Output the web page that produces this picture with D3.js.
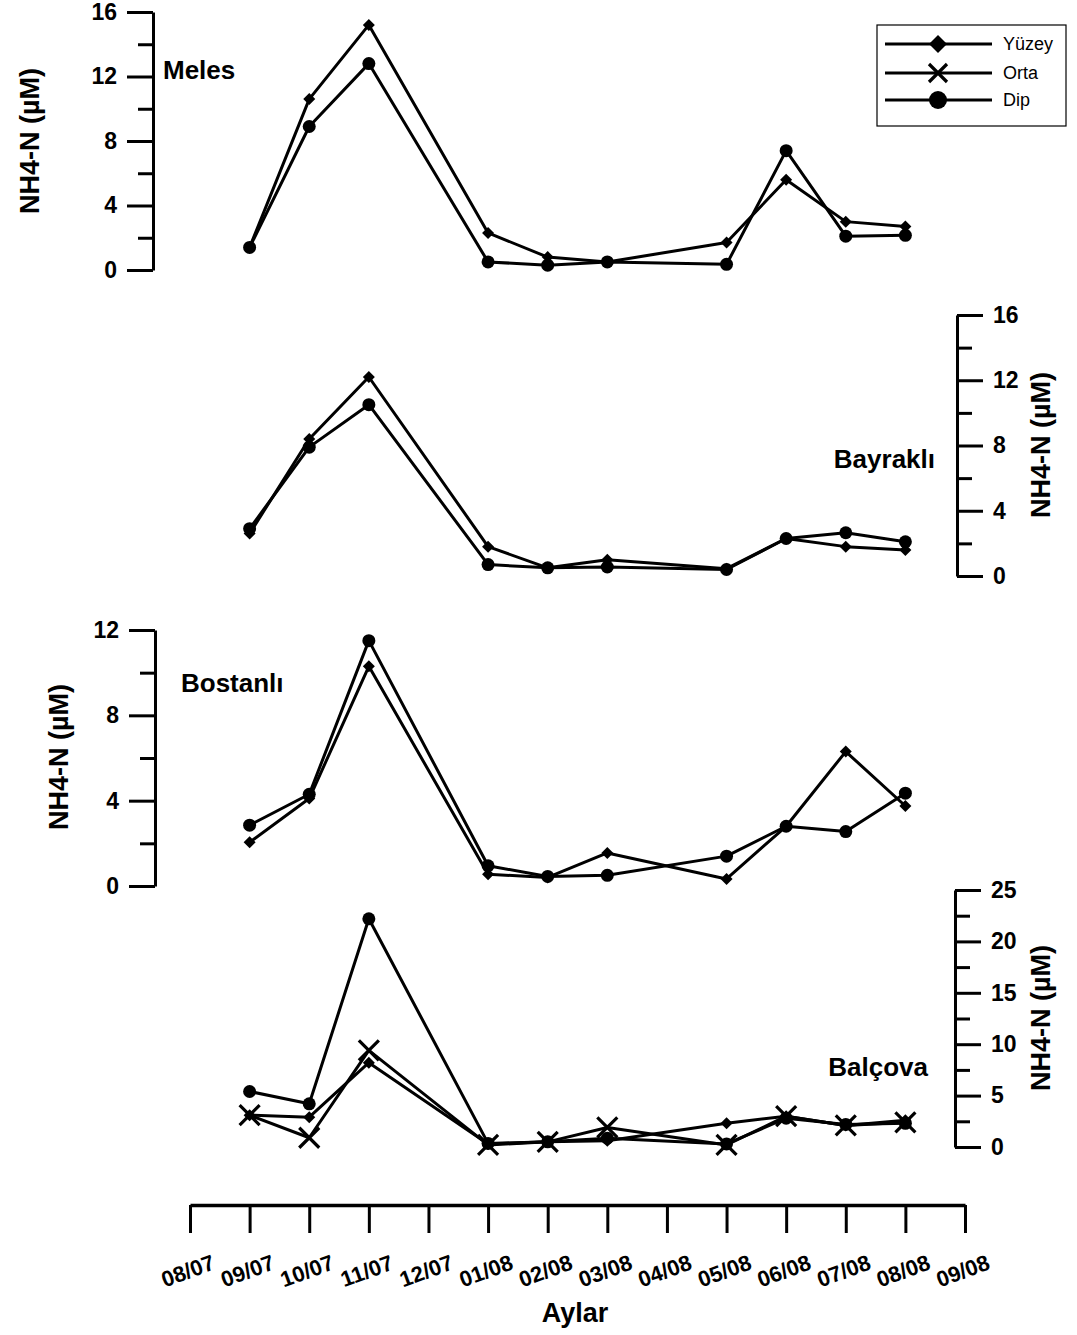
<!DOCTYPE html>
<html><head><meta charset="utf-8">
<script src="https://cdn.jsdelivr.net/npm/d3@7"></script>
<style>
body{margin:0;background:#fff;}
svg{font-family:"Liberation Sans",Arial,sans-serif;}
</style></head>
<body><svg id="c" width="1077" height="1335"></svg>
<script>
// ---- data ----
const months = ["08/07","09/07","10/07","11/07","12/07","01/08","02/08","03/08","04/08","05/08","06/08","07/08","08/08","09/08"];
const sampleIdx = [1,2,3,5,6,7,9,10,11,12];

const melesYuzey = [1.4, 10.6, 15.2, 2.3, 0.8, 0.5, 1.7, 5.6, 3.0, 2.7];
const melesDip   = [1.4, 8.9, 12.8, 0.5, 0.3, 0.5, 0.35, 7.4, 2.1, 2.15];

const bayrakliYuzey = [2.6, 8.4, 12.2, 1.8, 0.5, 1.0, 0.45, 2.3, 1.8, 1.6];
const bayrakliDip   = [2.9, 7.9, 10.5, 0.7, 0.5, 0.55, 0.4, 2.3, 2.65, 2.1];

const bostanliYuzey = [2.05, 4.1, 10.3, 0.55, 0.4, 1.55, 0.33, 2.8, 6.3, 3.75];
const bostanliDip   = [2.85, 4.3, 11.5, 0.95, 0.45, 0.5, 1.4, 2.8, 2.55, 4.35];

const balcovaYuzey = [3.1, 2.9, 8.2, 0.3, 0.5, 0.6, 2.3, 3.0, 2.1, 2.6];
const balcovaOrta  = [3.1, 0.9, 9.4, 0.2, 0.5, 1.9, 0.2, 3.0, 2.1, 2.4];
const balcovaDip   = [5.4, 4.2, 22.2, 0.35, 0.5, 0.85, 0.3, 2.8, 2.2, 2.3];

const legendLabels = ["Yüzey","Orta","Dip"];
const yTitle = "NH4-N (µM)";
const xTitle = "Aylar";

// ---- layout ----
const svg = d3.select("#c");
const FONT = '"Liberation Sans",Arial,sans-serif';
const x = d3.scaleLinear().domain([0, 13]).range([190, 965]);

const panels = [
  {name:"Meles", side:"left", axisX:153, domain:[0,16], range:[270,12], major:[0,4,8,12,16], minor:[2,6,10,14],
   series:[["d",melesYuzey],["o",melesDip]], label:{x:163,y:79,anchor:"start"}, title:{x:39,y:141}},
  {name:"Bayraklı", side:"right", axisX:957, domain:[0,16], range:[576,315], major:[0,4,8,12,16], minor:[2,6,10,14],
   series:[["d",bayrakliYuzey],["o",bayrakliDip]], label:{x:935,y:468,anchor:"end"}, title:{x:1050,y:445}},
  {name:"Bostanlı", side:"left", axisX:155, domain:[0,12], range:[886,630], major:[0,4,8,12], minor:[2,6,10],
   series:[["d",bostanliYuzey],["o",bostanliDip]], label:{x:181,y:692,anchor:"start"}, title:{x:68,y:757}},
  {name:"Balçova", side:"right", axisX:955, domain:[0,25], range:[1147,890], major:[0,5,10,15,20,25], minor:[2.5,7.5,12.5,17.5,22.5],
   series:[["d",balcovaYuzey],["x",balcovaOrta],["o",balcovaDip]], label:{x:928,y:1076,anchor:"end"}, title:{x:1050,y:1018}}
];

function drawMarker(g, type, cx, cy, s) {
  if (type === "d") {
    g.append("path").attr("d", `M${cx},${cy-s}L${cx+s},${cy}L${cx},${cy+s}L${cx-s},${cy}Z`).attr("fill","#000");
  } else if (type === "o") {
    g.append("circle").attr("cx",cx).attr("cy",cy).attr("r",s).attr("fill","#000");
  } else {
    g.append("path").attr("d", `M${cx-s},${cy-s}L${cx+s},${cy+s}M${cx-s},${cy+s}L${cx+s},${cy-s}`)
      .attr("stroke","#000").attr("stroke-width",3.2).attr("fill","none");
  }
}
const markerSize = {d:6, o:6.5, x:10};

panels.forEach(p => {
  const y = d3.scaleLinear().domain(p.domain).range(p.range);
  const mk = p.side === "left" ? d3.axisLeft : d3.axisRight;
  const gAx = svg.append("g").attr("transform", `translate(${p.axisX},0)`);
  gAx.call(mk(y).tickValues(p.major).tickSize(26).tickSizeOuter(0).tickPadding(10).tickFormat(d3.format("d")));
  gAx.append("g").call(mk(y).tickValues(p.minor).tickSize(15).tickSizeOuter(0).tickFormat(""));
  gAx.selectAll("path.domain").attr("stroke","#000").attr("stroke-width",3);
  gAx.selectAll(".tick line").attr("stroke","#000").attr("stroke-width",3);
  gAx.selectAll("g > g > path.domain").remove();
  gAx.selectAll("text").attr("font-family",FONT).attr("font-size",23).attr("font-weight","bold").attr("fill","#000");

  svg.append("text").attr("transform",`translate(${p.title.x},${p.title.y}) rotate(-90)`)
    .attr("text-anchor","middle").attr("font-family",FONT).attr("font-size",27).attr("font-weight","bold").text(yTitle);

  svg.append("text").attr("x",p.label.x).attr("y",p.label.y).attr("text-anchor",p.label.anchor)
    .attr("font-family",FONT).attr("font-size",26).attr("font-weight","bold").text(p.name);

  const line = d3.line().x((d,i) => x(sampleIdx[i])).y(d => y(d));
  p.series.forEach(([type, vals]) => {
    const g = svg.append("g");
    g.append("path").datum(vals).attr("d", line).attr("fill","none").attr("stroke","#000").attr("stroke-width",3).attr("stroke-linejoin","round");
    vals.forEach((v,i) => drawMarker(g, type, x(sampleIdx[i]), y(v), markerSize[type]));
  });
});

// bottom axis
const gx = svg.append("g").attr("transform","translate(0,1205)");
gx.call(d3.axisBottom(x).tickValues(d3.range(months.length)).tickSize(28).tickSizeOuter(0).tickFormat(""));
gx.select("path.domain").attr("stroke","#000").attr("stroke-width",3.5);
gx.selectAll(".tick line").attr("stroke","#000").attr("stroke-width",3);
gx.selectAll(".tick").append("text")
  .attr("transform","translate(0,73) rotate(-20)")
  .attr("text-anchor","middle").attr("fill","#000")
  .attr("font-family",FONT).attr("font-size",22).attr("font-weight","bold")
  .text((d) => months[d]);

svg.append("text").attr("x",575).attr("y",1322).attr("text-anchor","middle")
  .attr("font-family",FONT).attr("font-size",27).attr("font-weight","bold").text(xTitle);

// legend
const lg = svg.append("g");
lg.append("rect").attr("x",877).attr("y",25).attr("width",189).attr("height",101).attr("fill","#fff").attr("stroke","#000").attr("stroke-width",1.2);
const legTypes = ["d","x","o"];
const legY = [44,73,100];
legTypes.forEach((t,i) => {
  lg.append("line").attr("x1",885).attr("x2",992).attr("y1",legY[i]).attr("y2",legY[i]).attr("stroke","#000").attr("stroke-width",3);
  drawMarker(lg, t, 938, legY[i], 9);
  lg.append("text").attr("x",1003).attr("y",legY[i]+6).attr("font-family",FONT).attr("font-size",18).text(legendLabels[i]);
});
</script></body></html>
